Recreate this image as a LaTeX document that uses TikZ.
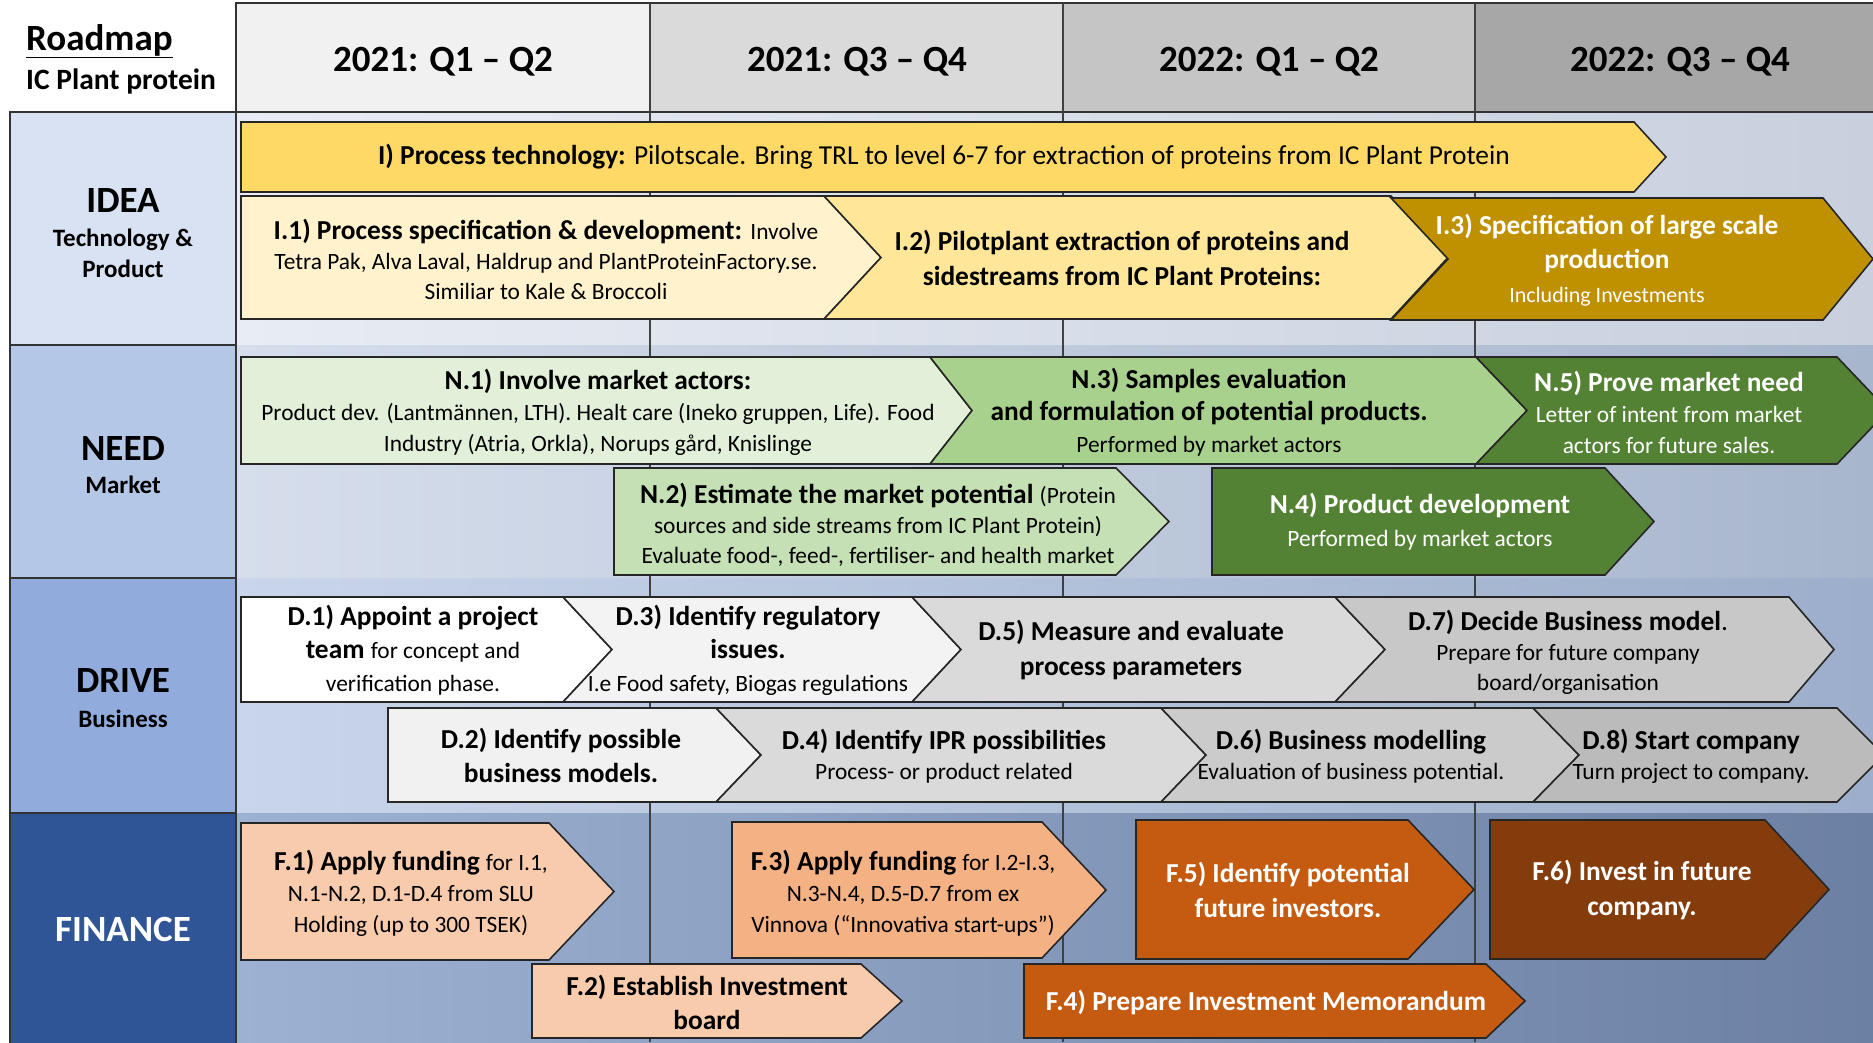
\documentclass[tikz,border=0pt]{standalone}
\usepackage{fontspec}
\setmainfont{Carlito}
\usetikzlibrary{calc}

% header and lane colours
\definecolor{hdA}{HTML}{F1F1F1}
\definecolor{hdB}{HTML}{DADADA}
\definecolor{hdC}{HTML}{C5C5C5}
\definecolor{hdD}{HTML}{A7A7A7}
\definecolor{laneIdea}{HTML}{D9E2F3}
\definecolor{laneNeed}{HTML}{B4C7E7}
\definecolor{laneDrive}{HTML}{91ACDC}
\definecolor{laneFin}{HTML}{2F5597}
\definecolor{bgIa}{HTML}{E8ECF4}\definecolor{bgIb}{HTML}{C8D0DE}
\definecolor{bgNa}{HTML}{D6DEEC}\definecolor{bgNb}{HTML}{A8B6CD}
\definecolor{bgDa}{HTML}{C9D5EA}\definecolor{bgDb}{HTML}{9CAECB}
\definecolor{bgFa}{HTML}{9DB1D2}\definecolor{bgFb}{HTML}{6C80A4}
% task colours
\definecolor{cI}{HTML}{FFD966}
\definecolor{cIa}{HTML}{FFF2CC}
\definecolor{cIb}{HTML}{FFE699}
\definecolor{cIc}{HTML}{BF9000}
\definecolor{cNa}{HTML}{E2F0D9}
\definecolor{cNb}{HTML}{C5E0B4}
\definecolor{cNc}{HTML}{A9D18E}
\definecolor{cNd}{HTML}{548235}
\definecolor{cDa}{HTML}{FFFFFF}
\definecolor{cDb}{HTML}{F3F3F3}
\definecolor{cDc}{HTML}{F1F1F1}
\definecolor{cDd}{HTML}{DADADA}
\definecolor{cDe}{HTML}{DADADA}
\definecolor{cDf}{HTML}{CBCBCB}
\definecolor{cDg}{HTML}{C8C8C8}
\definecolor{cDh}{HTML}{BBBBBB}
\definecolor{cFa}{HTML}{F8CBAD}
\definecolor{cFb}{HTML}{F4B183}
\definecolor{cFc}{HTML}{C55A11}
\definecolor{cFd}{HTML}{843C0C}

\tikzset{
  outline/.style={draw=black!85, line width=1.6},
  cellline/.style={draw=black!80, line width=1.6},
  divider/.style={draw=black!75, line width=1.3},
  lbl/.style={align=center, inner sep=0pt, font=\fontsize{27.4}{30}\selectfont},
  lblw/.style={lbl, text=white},
  colhead/.style={inner sep=0pt, font=\fontsize{37}{44}\selectfont\bfseries},
  lanehead/.style={inner sep=0pt, font=\fontsize{37}{44}\selectfont\bfseries},
  lanesub/.style={inner sep=0pt, font=\fontsize{25}{30}\selectfont\bfseries},
}

\newcommand{\sm}{\fontsize{23.4}{30}\selectfont}

% task arrow: left, top, bottom, body end, tip, notch depth, fill
\newcommand{\taskshape}[7]{%
  \filldraw[outline, fill=#7] (#1,#2) -- (#4,#2) -- (#5,{(#2+#3)/2}) -- (#4,#3)
    -- (#1,#3) -- ({#1+#6},{(#2+#3)/2}) -- cycle;}

\begin{document}
\begin{tikzpicture}[x=1pt,y=-1pt]
\useasboundingbox (0,0) rectangle (1873,1042);
\clip (0,0) rectangle (1873,1042);
\fill[white] (0,0) rectangle (1873,1042);

% lane backgrounds of the time grid
\shade[left color=bgIa, right color=bgIb] (236,112) rectangle (1873,345);
\shade[left color=bgNa, right color=bgNb] (236,345) rectangle (1873,578);
\shade[left color=bgDa, right color=bgDb] (236,578) rectangle (1873,813);
\shade[left color=bgFa, right color=bgFb] (236,813) rectangle (1873,1042);

% column headers
\fill[hdA] (236,3) rectangle (650,112);
\fill[hdB] (650,3) rectangle (1063,112);
\fill[hdC] (1063,3) rectangle (1475,112);
\fill[hdD] (1475,3) rectangle (1873,112);
\draw[cellline] (1880,3) -- (236,3) -- (236,112) -- (1880,112);
\foreach \xx in {650,1063,1475} \draw[divider] (\xx,3) -- (\xx,1042);

% lane titles
\filldraw[cellline, fill=laneIdea] (10,112) rectangle (236,345);
\filldraw[cellline, fill=laneNeed] (10,345) rectangle (236,578);
\filldraw[cellline, fill=laneDrive] (10,578) rectangle (236,813);
\filldraw[cellline, fill=laneFin] (10,813) rectangle (236,1050);

% title
\node[inner sep=0pt, anchor=base west, font=\fontsize{37}{44}\selectfont\bfseries] (title) at (26,50) {\underline{Roadmap}};
\node[inner sep=0pt, anchor=base west, font=\fontsize{29.5}{34}\selectfont\bfseries] (subtitle) at (26,89) {IC Plant protein};

\node[colhead] (h1) at (443,62) {2021: Q1 – Q2};
\node[colhead] (h2) at (857,62) {2021: Q3 – Q4};
\node[colhead] (h3) at (1269,62) {2022: Q1 – Q2};
\node[colhead] (h4) at (1680,62) {2022: Q3 – Q4};

\node[lanehead, anchor=base] (lIdea) at (123,212) {IDEA};
\node[lanesub, anchor=base] (lIdeaA) at (123,246) {Technology \&};
\node[lanesub, anchor=base] (lIdeaB) at (123,277) {Product};
\node[lanehead, anchor=base] (lNeed) at (123,460) {NEED};
\node[lanesub, anchor=base] (lNeedA) at (123,493) {Market};
\node[lanehead, anchor=base] (lDrive) at (123,692) {DRIVE};
\node[lanesub, anchor=base] (lDriveA) at (123,727) {Business};
\node[lanehead, anchor=base, text=white] (lFin) at (123,941) {FINANCE};

% IDEA lane
\taskshape{241}{122}{192}{1634}{1666}{0}{cI}
\taskshape{241}{196}{319}{824}{881}{0}{cIa}
\taskshape{824}{196}{319}{1391}{1448}{57}{cIb}
\taskshape{1391}{198}{320}{1823}{1873}{57}{cIc}
\node[lbl] (tI) at (944,157) {\textbf{I) Process technology:} Pilotscale. Bring TRL to level 6-7 for extraction of proteins from IC Plant Protein};
\node[lbl] (tI1) at (546,259) {\textbf{I.1) Process specification \& development:} {\sm Involve}\\ {\sm Tetra Pak, Alva Laval, Haldrup and PlantProteinFactory.se.}\\ {\sm Similiar to Kale \& Broccoli}};
\node[lbl, font=\fontsize{27.4}{35}\selectfont\bfseries] (tI2) at (1122,258) {I.2) Pilotplant extraction of proteins and\\ sidestreams from IC Plant Proteins:};
\node[lblw, font=\fontsize{27.4}{34}\selectfont\bfseries] (tI3) at (1607,260) {I.3) Specification of large scale\\ production\\ {\fontsize{22}{30}\selectfont\mdseries Including Investments}};

% NEED lane
\taskshape{241}{357}{464}{930}{972}{0}{cNa}
\taskshape{930}{357}{464}{1476}{1527}{42}{cNc}
\taskshape{1476}{357}{464}{1837}{1888}{51}{cNd}
\taskshape{614}{468}{575}{1116}{1169}{0}{cNb}
\taskshape{1212}{468}{575}{1605}{1654}{0}{cNd}
\node[lbl, font=\fontsize{27.4}{31}\selectfont] (tN1) at (598,412) {\textbf{N.1) Involve market actors:}\\ {\sm Product dev. (Lantmännen, LTH). Healt care (Ineko gruppen, Life). Food}\\ {\sm Industry (Atria, Orkla), Norups gård, Knislinge}};
\node[lbl, font=\fontsize{27.4}{32}\selectfont\bfseries] (tN3) at (1209,412) {N.3) Samples evaluation\\ and formulation of potential products.\\ {\sm\mdseries Performed by market actors}};
\node[lblw, font=\fontsize{27.4}{31}\selectfont] (tN5) at (1669,412) {\textbf{N.5) Prove market need}\\ {\sm Letter of intent from market}\\ {\sm actors for future sales.}};
\node[lbl] (tN2) at (878,525) {\textbf{N.2) Estimate the market potential} {\sm(Protein}\\ {\sm sources and side streams from IC Plant Protein)}\\ {\sm Evaluate food-, feed-, fertiliser- and health market}};
\node[lblw, font=\fontsize{27.4}{33}\selectfont] (tN4) at (1420,522) {\textbf{N.4) Product development}\\ {\sm Performed by market actors}};

% DRIVE lane
\taskshape{241}{597}{702}{563}{612}{0}{cDa}
\taskshape{563}{597}{702}{912}{961}{49}{cDb}
\taskshape{912}{597}{702}{1335}{1385}{49}{cDe}
\taskshape{1335}{597}{702}{1789}{1834}{50}{cDg}
\taskshape{388}{708}{802}{716}{761}{0}{cDc}
\taskshape{716}{708}{802}{1161}{1206}{45}{cDd}
\taskshape{1161}{708}{802}{1533}{1579}{45}{cDf}
\taskshape{1533}{708}{802}{1837}{1884}{46}{cDh}
\node[lbl, font=\fontsize{27.4}{33}\selectfont] (tD1) at (413,650) {\textbf{D.1) Appoint a project}\\ \textbf{team} {\sm for concept and}\\ {\sm verification phase.}};
\node[lbl, font=\fontsize{27.4}{33}\selectfont] (tD3) at (748,650) {\textbf{D.3) Identify regulatory}\\ \textbf{issues.}\\ {\sm I.e Food safety, Biogas regulations}};
\node[lbl, font=\fontsize{27.4}{35}\selectfont\bfseries] (tD5) at (1131,650) {D.5) Measure and evaluate\\ process parameters};
\node[lbl] (tD7) at (1568,652) {\textbf{D.7) Decide Business model}.\\ {\sm Prepare for future company}\\ {\sm board/organisation}};
\node[lbl, font=\fontsize{27.4}{34}\selectfont\bfseries] (tD2) at (561,755) {D.2) Identify possible\\ business models.};
\node[lbl] (tD4) at (944,756) {\textbf{D.4) Identify IPR possibilities}\\ {\sm Process- or product related}};
\node[lbl] (tD6) at (1351,756) {\textbf{D.6) Business modelling}\\ {\sm Evaluation of business potential.}};
\node[lbl] (tD8) at (1691,756) {\textbf{D.8) Start company}\\ {\sm Turn project to company.}};

% FINANCE lane
\taskshape{241}{823}{960}{549}{614}{0}{cFa}
\taskshape{732}{822}{958}{1042}{1106}{0}{cFb}
\taskshape{1136}{820}{959}{1408}{1474}{0}{cFc}
\taskshape{1490}{820}{959}{1765}{1829}{0}{cFd}
\taskshape{532}{964}{1038}{861}{902}{0}{cFa}
\taskshape{1024}{964}{1038}{1486}{1525}{0}{cFc}
\node[lbl, font=\fontsize{27.4}{31}\selectfont] (tF1) at (411,893) {\textbf{F.1) Apply funding} {\sm for I.1,}\\ {\sm N.1-N.2, D.1-D.4 from SLU}\\ {\sm Holding (up to 300 TSEK)}};
\node[lbl, font=\fontsize{27.4}{31}\selectfont] (tF3) at (903,893) {\textbf{F.3) Apply funding} {\sm for I.2-I.3,}\\ {\sm N.3-N.4, D.5-D.7 from ex}\\ {\sm Vinnova (“Innovativa start-ups”)}};
\node[lblw, font=\fontsize{27.4}{35}\selectfont\bfseries] (tF5) at (1288,890) {F.5) Identify potential\\ future investors.};
\node[lblw, font=\fontsize{27.4}{35}\selectfont\bfseries] (tF6) at (1642,890) {F.6) Invest in future\\ company.};
\node[lbl, font=\fontsize{27.4}{34}\selectfont\bfseries] (tF2) at (707,1002) {F.2) Establish Investment\\ board};
\node[lblw, font=\fontsize{27.4}{30}\selectfont\bfseries] (tF4) at (1266,1002) {F.4) Prepare Investment Memorandum};
\end{tikzpicture}
\end{document}
